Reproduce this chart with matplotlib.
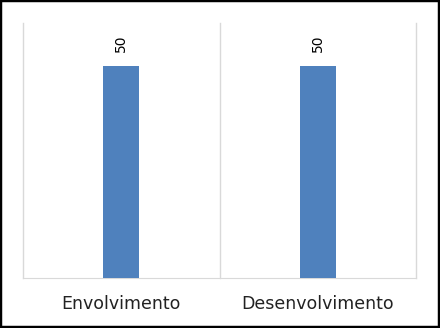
import matplotlib.pyplot as plt
from matplotlib.patches import Rectangle

categories = ['Envolvimento', 'Desenvolvimento']
values = [50, 50]

fig = plt.figure(figsize=(4.4, 3.28), dpi=100)
ax = fig.add_axes([23 / 440, 50 / 328, 393 / 440, 255 / 328])

x = list(range(len(categories)))
bars = ax.bar(x, values, width=0.183, color='#4F81BD', zorder=3)

for rect, v in zip(bars, values):
    ax.annotate(str(v), (rect.get_x() + rect.get_width() / 2, rect.get_height()),
                xytext=(0, 9.5), textcoords='offset points',
                ha='center', va='bottom', rotation=90, fontsize=10, color='black')

ax.set_xlim(-0.5, len(categories) - 0.5)
ax.set_ylim(0, 60)
ax.set_xticks(x)
ax.set_xticklabels(categories, fontsize=12.5, color='#222222')
ax.set_xticks([i - 0.5 for i in range(len(categories) + 1)], minor=True)
ax.tick_params(axis='x', which='both', length=0, pad=12)
ax.set_yticks([])
ax.grid(axis='x', which='minor', color='#d9d9d9', linewidth=1)
for t in ax.xaxis.get_minor_ticks():
    t.gridline.set_clip_on(False)
for side in ['top', 'left', 'right']:
    ax.spines[side].set_visible(False)
ax.spines['bottom'].set_color('#d9d9d9')

fig.patches.append(Rectangle((0, 0), 1, 1, transform=fig.transFigure,
                             fill=False, edgecolor='black', linewidth=3.2))

fig.savefig('out.png', dpi=100)
